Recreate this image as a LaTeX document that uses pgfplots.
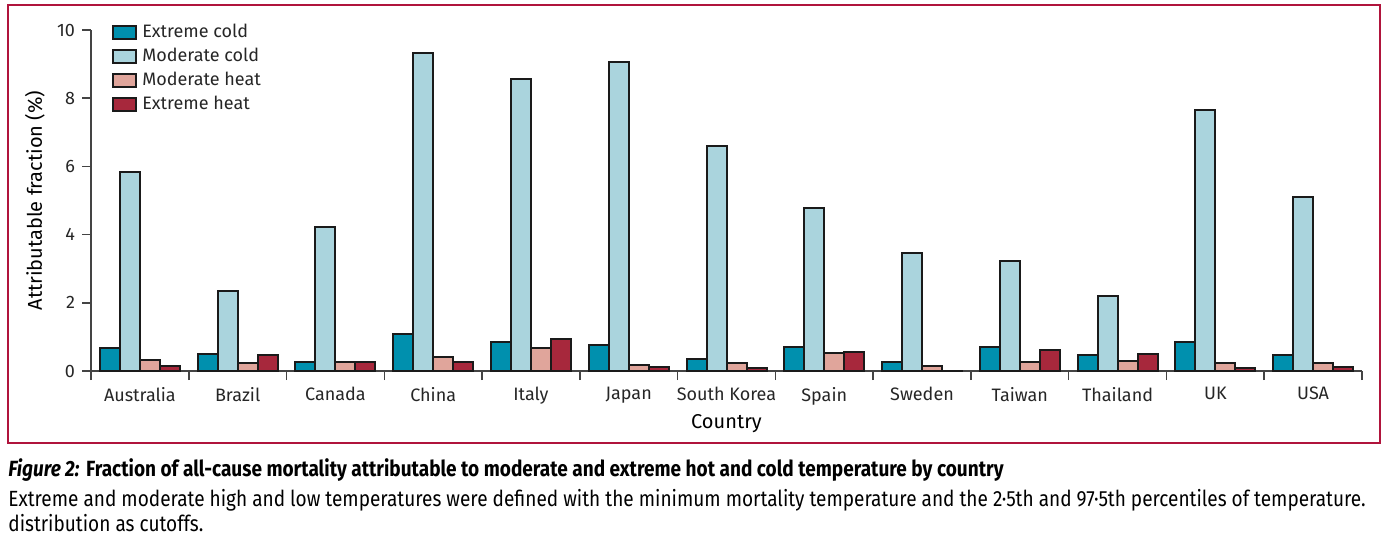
\documentclass[border=0pt]{standalone}
\usepackage{pgfplots}
\pgfplotsset{compat=1.18}
\usepackage{fontspec}
\setmainfont{Fira Sans}
\newfontfamily\capfont[FakeStretch=0.865]{Fira Sans}

\definecolor{xcold}{HTML}{0090AE}
\definecolor{mcold}{HTML}{AAD4DD}
\definecolor{mheat}{HTML}{E0A59B}
\definecolor{xheat}{HTML}{A7283C}
\definecolor{frame}{HTML}{B0143C}
\definecolor{axisgray}{HTML}{444444}
\definecolor{edge}{HTML}{1A1A1A}

\begin{document}
\begin{tikzpicture}[x=1pt,y=1pt]
\useasboundingbox (-45.5,-85) rectangle (648.5,185.5);
\draw[frame, line width=0.7pt] (-41.5,-36) rectangle (644.5,183);
\begin{axis}[
  at={(0,0)}, anchor=south west,
  width=635.5pt, height=170.5pt, scale only axis,
  xmin=-0.5, xmax=12.5, ymin=0, ymax=10,
  axis x line*=bottom, axis y line*=left,
  axis line style={draw=axisgray, line width=0.9pt},
  every tick/.style={draw=axisgray, line width=0.8pt},
  tick align=outside,
  major tick length=4.5pt, minor tick length=4.5pt,
  ybar=0pt, bar width=10pt,
  xtick={0,...,12},
  xticklabels={Australia, Brazil, Canada, China, Italy, Japan, South Korea, Spain, Sweden, Taiwan, Thailand, UK, USA},
  every major x tick/.append style={draw=none},
  minor xtick={-0.5,0.5,...,12.5},
  ytick={0,2,...,10},
  /pgf/number format/assume math mode=true,
  tick label style={font=\fontsize{9}{11}\selectfont, text=black!85},
  label style={font=\fontsize{9}{11}\selectfont, text=black!85},
  xlabel={Country},
  ylabel={Attributable fraction (\%)},
  every axis x label/.style={at={(axis description cs:0.5,-0.155)}, anchor=center},
  every axis y label/.style={at={(axis description cs:-0.0441,0.5)}, rotate=90, anchor=center},
  legend style={at={(axis description cs:0.0165,1.027)}, anchor=north west,
    draw=none, fill=none, inner sep=0pt, row sep=0.5pt, column sep=1pt,
    font=\fontsize{9}{11}\selectfont,
    nodes={inner sep=1.5pt, text height=6.5pt, text depth=2pt, text=black!85}},
  legend cell align=left,
  legend image code/.code={\draw[#1, draw=edge, line width=1pt] (0pt,-3.25pt) rectangle (11.5pt,3.25pt);},
  every axis plot/.append style={draw=edge, line width=1pt},
]
\addplot[fill=xcold] coordinates {(0,0.68) (1,0.49) (2,0.26) (3,1.08) (4,0.84) (5,0.77) (6,0.34) (7,0.71) (8,0.27) (9,0.71) (10,0.46) (11,0.86) (12,0.46)};
\addplot[fill=mcold] coordinates {(0,5.84) (1,2.36) (2,4.23) (3,9.33) (4,8.55) (5,9.05) (6,6.60) (7,4.77) (8,3.45) (9,3.22) (10,2.19) (11,7.65) (12,5.10)};
\addplot[fill=mheat] coordinates {(0,0.31) (1,0.23) (2,0.27) (3,0.40) (4,0.68) (5,0.19) (6,0.23) (7,0.53) (8,0.16) (9,0.26) (10,0.28) (11,0.23) (12,0.23)};
\addplot[fill=xheat] coordinates {(0,0.14) (1,0.48) (2,0.27) (3,0.25) (4,0.95) (5,0.13) (6,0.10) (7,0.55) (8,0.01) (9,0.61) (10,0.49) (11,0.08) (12,0.13)};
\legend{Extreme cold, Moderate cold, Moderate heat, Extreme heat}
\end{axis}
\node[anchor=base west, inner sep=0pt, font=\capfont\fontsize{11}{13}\selectfont] at (-41.5,-52.5)
  {\textbf{\textit{Figure 2:}} \textbf{Fraction of all-cause mortality attributable to moderate and extreme hot and cold temperature by country}};
\node[anchor=base west, inner sep=0pt, font=\capfont\fontsize{11}{13}\selectfont] at (-41.5,-67.5)
  {Extreme and moderate high and low temperatures were defined with the minimum mortality temperature and the 2·5th and 97·5th percentiles of temperature.};
\node[anchor=base west, inner sep=0pt, font=\capfont\fontsize{11}{13}\selectfont] at (-41.5,-80)
  {distribution as cutoffs.};
\end{tikzpicture}
\end{document}
